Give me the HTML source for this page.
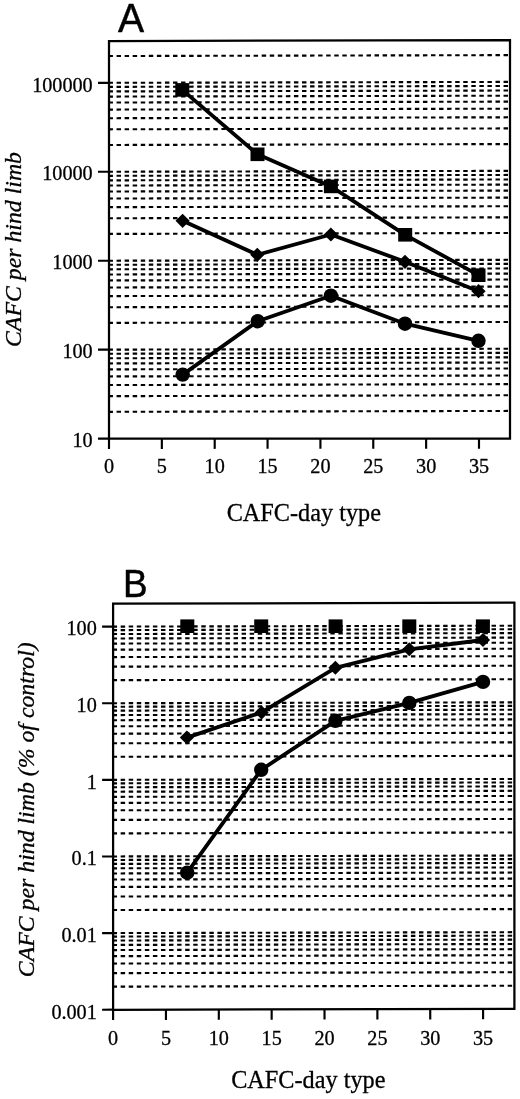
<!DOCTYPE html>
<html><head><meta charset="utf-8"><title>CAFC per hind limb</title>
<style>html,body{margin:0;padding:0;background:#fff}svg{display:block;will-change:transform;opacity:.999;filter:blur(.4px)}.s{font-family:"Liberation Serif",serif;fill:#000;stroke:#000;stroke-width:.3px}.i{font-family:"Liberation Serif",serif;font-style:italic;fill:#000;stroke:#000;stroke-width:.3px}.h{font-family:"Liberation Sans",sans-serif;fill:#000;stroke:#000;stroke-width:.5px}</style></head><body>
<svg width="520" height="1099" viewBox="0 0 520 1099">
<rect x="0" y="0" width="520" height="1099" fill="#fff"/>
<g transform="translate(0 0.25) skewY(-0.129)">
<g stroke="#000" stroke-width="2.12" stroke-dasharray="4.45 3.6125" fill="none">
<path d="M108.50 411.82H510.00"/>
<path d="M108.50 396.16H510.00"/>
<path d="M108.50 385.05H510.00"/>
<path d="M108.50 376.43H510.00"/>
<path d="M108.50 369.38H510.00"/>
<path d="M108.50 363.43H510.00"/>
<path d="M108.50 358.27H510.00"/>
<path d="M108.50 353.72H510.00"/>
<path d="M108.50 349.65H510.00"/>
<path d="M108.50 322.87H510.00"/>
<path d="M108.50 307.21H510.00"/>
<path d="M108.50 296.10H510.00"/>
<path d="M108.50 287.48H510.00"/>
<path d="M108.50 280.43H510.00"/>
<path d="M108.50 274.48H510.00"/>
<path d="M108.50 269.32H510.00"/>
<path d="M108.50 264.77H510.00"/>
<path d="M108.50 260.70H510.00"/>
<path d="M108.50 233.92H510.00"/>
<path d="M108.50 218.26H510.00"/>
<path d="M108.50 207.15H510.00"/>
<path d="M108.50 198.53H510.00"/>
<path d="M108.50 191.48H510.00"/>
<path d="M108.50 185.53H510.00"/>
<path d="M108.50 180.37H510.00"/>
<path d="M108.50 175.82H510.00"/>
<path d="M108.50 171.75H510.00"/>
<path d="M108.50 144.97H510.00"/>
<path d="M108.50 129.31H510.00"/>
<path d="M108.50 118.20H510.00"/>
<path d="M108.50 109.58H510.00"/>
<path d="M108.50 102.53H510.00"/>
<path d="M108.50 96.58H510.00"/>
<path d="M108.50 91.42H510.00"/>
<path d="M108.50 86.87H510.00"/>
<path d="M108.50 82.80H510.00"/>
<path d="M108.50 56.02H510.00"/>
</g>
<path d="M109 41.0H510V439.40L109 438.6Z" fill="none" stroke="#000" stroke-width="2.25" stroke-linejoin="miter"/>
<g stroke="#000" stroke-width="2.15" fill="none">
<path d="M98.00 82.80H109.00"/>
<path d="M98.00 171.75H109.00"/>
<path d="M98.00 260.70H109.00"/>
<path d="M98.00 349.65H109.00"/>
<path d="M98.00 438.60H109.00"/>
<path d="M109.00 438.60V448.90"/>
<path d="M161.85 438.71V449.01"/>
<path d="M214.71 438.81V449.11"/>
<path d="M267.56 438.92V449.22"/>
<path d="M320.42 439.02V449.32"/>
<path d="M373.27 439.13V449.43"/>
<path d="M426.13 439.23V449.53"/>
<path d="M478.99 439.34V449.64"/>
</g>
</g>
<text class="s" font-size="20.2" text-anchor="end" x="92.70" y="91.50">100000</text>
<text class="s" font-size="20.2" text-anchor="end" x="92.70" y="180.45">10000</text>
<text class="s" font-size="20.2" text-anchor="end" x="92.70" y="269.40">1000</text>
<text class="s" font-size="20.2" text-anchor="end" x="92.70" y="358.35">100</text>
<text class="s" font-size="20.2" text-anchor="end" x="92.70" y="447.30">10</text>
<text class="s" font-size="20.2" text-anchor="middle" x="109.00" y="472.60">0</text>
<text class="s" font-size="20.2" text-anchor="middle" x="161.85" y="472.60">5</text>
<text class="s" font-size="20.2" text-anchor="middle" x="214.71" y="472.60">10</text>
<text class="s" font-size="20.2" text-anchor="middle" x="267.56" y="472.60">15</text>
<text class="s" font-size="20.2" text-anchor="middle" x="320.42" y="472.60">20</text>
<text class="s" font-size="20.2" text-anchor="middle" x="373.27" y="472.60">25</text>
<text class="s" font-size="20.2" text-anchor="middle" x="426.13" y="472.60">30</text>
<text class="s" font-size="20.2" text-anchor="middle" x="478.99" y="472.60">35</text>
<polyline fill="none" stroke="#000" stroke-width="3.8" stroke-linejoin="round" points="182.3,89.9 257.5,154.3 330.9,186.4 405.2,234.8 478.5,275.2"/>
<rect x="175.3" y="83.1" width="14" height="13.6" fill="#000"/>
<rect x="250.5" y="147.5" width="14" height="13.6" fill="#000"/>
<rect x="323.9" y="179.6" width="14" height="13.6" fill="#000"/>
<rect x="398.2" y="228.0" width="14" height="13.6" fill="#000"/>
<rect x="471.5" y="268.4" width="14" height="13.6" fill="#000"/>
<polyline fill="none" stroke="#000" stroke-width="3.8" stroke-linejoin="round" points="182.6,220.8 257.3,254.8 330.9,234.5 405.0,261.8 478.5,291.2"/>
<path d="M175.5 220.8L182.6 213.8L189.7 220.8L182.6 227.9Z" fill="#000"/>
<path d="M250.2 254.8L257.3 247.8L264.4 254.8L257.3 261.9Z" fill="#000"/>
<path d="M323.8 234.5L330.9 227.4L337.9 234.5L330.9 241.6Z" fill="#000"/>
<path d="M397.9 261.8L405.0 254.8L412.1 261.8L405.0 268.9Z" fill="#000"/>
<path d="M471.4 291.2L478.5 284.1L485.6 291.2L478.5 298.2Z" fill="#000"/>
<polyline fill="none" stroke="#000" stroke-width="3.8" stroke-linejoin="round" points="182.7,374.6 257.7,321.2 330.9,295.7 405.0,323.7 478.5,340.8"/>
<circle cx="182.7" cy="374.6" r="7.2" fill="#000"/>
<circle cx="257.7" cy="321.2" r="7.2" fill="#000"/>
<circle cx="330.9" cy="295.7" r="7.2" fill="#000"/>
<circle cx="405.0" cy="323.7" r="7.2" fill="#000"/>
<circle cx="478.5" cy="340.8" r="7.2" fill="#000"/>
<text class="h" font-size="41.2" transform="translate(118.1 32.2) scale(0.95 1)">A</text>
<text class="i" font-size="23.8" transform="translate(21.2 347) rotate(-90)">CAFC per hind limb</text>
<text class="s" font-size="24.25" text-anchor="middle" x="303.8" y="520.8">CAFC-day type</text>
<g transform="translate(0 0.25) skewY(-0.129)">
<g stroke="#000" stroke-width="2.12" stroke-dasharray="4.45 3.6125" fill="none">
<path d="M112.60 986.64H514.40"/>
<path d="M112.60 973.14H514.40"/>
<path d="M112.60 963.57H514.40"/>
<path d="M112.60 956.14H514.40"/>
<path d="M112.60 950.08H514.40"/>
<path d="M112.60 944.95H514.40"/>
<path d="M112.60 940.51H514.40"/>
<path d="M112.60 936.59H514.40"/>
<path d="M112.60 933.08H514.40"/>
<path d="M112.60 910.02H514.40"/>
<path d="M112.60 896.52H514.40"/>
<path d="M112.60 886.95H514.40"/>
<path d="M112.60 879.52H514.40"/>
<path d="M112.60 873.46H514.40"/>
<path d="M112.60 868.33H514.40"/>
<path d="M112.60 863.89H514.40"/>
<path d="M112.60 859.97H514.40"/>
<path d="M112.60 856.46H514.40"/>
<path d="M112.60 833.40H514.40"/>
<path d="M112.60 819.90H514.40"/>
<path d="M112.60 810.33H514.40"/>
<path d="M112.60 802.90H514.40"/>
<path d="M112.60 796.84H514.40"/>
<path d="M112.60 791.71H514.40"/>
<path d="M112.60 787.27H514.40"/>
<path d="M112.60 783.35H514.40"/>
<path d="M112.60 779.84H514.40"/>
<path d="M112.60 756.78H514.40"/>
<path d="M112.60 743.28H514.40"/>
<path d="M112.60 733.71H514.40"/>
<path d="M112.60 726.28H514.40"/>
<path d="M112.60 720.22H514.40"/>
<path d="M112.60 715.09H514.40"/>
<path d="M112.60 710.65H514.40"/>
<path d="M112.60 706.73H514.40"/>
<path d="M112.60 703.22H514.40"/>
<path d="M112.60 680.16H514.40"/>
<path d="M112.60 666.66H514.40"/>
<path d="M112.60 657.09H514.40"/>
<path d="M112.60 649.66H514.40"/>
<path d="M112.60 643.60H514.40"/>
<path d="M112.60 638.47H514.40"/>
<path d="M112.60 634.03H514.40"/>
<path d="M112.60 630.11H514.40"/>
<path d="M112.60 626.60H514.40"/>
</g>
<path d="M113.1 603.6H514.4V1009.80L113.1 1009.8Z" fill="none" stroke="#000" stroke-width="2.25" stroke-linejoin="miter"/>
<g stroke="#000" stroke-width="2.15" fill="none">
<path d="M102.10 626.60H113.10"/>
<path d="M102.10 703.22H113.10"/>
<path d="M102.10 779.84H113.10"/>
<path d="M102.10 856.46H113.10"/>
<path d="M102.10 933.08H113.10"/>
<path d="M102.10 1009.70H113.10"/>
<path d="M113.10 1009.80V1020.10"/>
<path d="M165.95 1009.80V1020.10"/>
<path d="M218.81 1009.80V1020.10"/>
<path d="M271.66 1009.80V1020.10"/>
<path d="M324.52 1009.80V1020.10"/>
<path d="M377.38 1009.80V1020.10"/>
<path d="M430.23 1009.80V1020.10"/>
<path d="M483.09 1009.80V1020.10"/>
</g>
</g>
<text class="s" font-size="20.2" text-anchor="end" x="96.80" y="635.40">100</text>
<text class="s" font-size="20.2" text-anchor="end" x="96.80" y="712.02">10</text>
<text class="s" font-size="20.2" text-anchor="end" x="96.80" y="788.64">1</text>
<text class="s" font-size="20.2" text-anchor="end" x="96.80" y="865.26">0.1</text>
<text class="s" font-size="20.2" text-anchor="end" x="96.80" y="941.88">0.01</text>
<text class="s" font-size="20.2" text-anchor="end" x="96.80" y="1018.50">0.001</text>
<text class="s" font-size="20.2" text-anchor="middle" x="113.10" y="1045.00">0</text>
<text class="s" font-size="20.2" text-anchor="middle" x="165.95" y="1045.00">5</text>
<text class="s" font-size="20.2" text-anchor="middle" x="218.81" y="1045.00">10</text>
<text class="s" font-size="20.2" text-anchor="middle" x="271.66" y="1045.00">15</text>
<text class="s" font-size="20.2" text-anchor="middle" x="324.52" y="1045.00">20</text>
<text class="s" font-size="20.2" text-anchor="middle" x="377.38" y="1045.00">25</text>
<text class="s" font-size="20.2" text-anchor="middle" x="430.23" y="1045.00">30</text>
<text class="s" font-size="20.2" text-anchor="middle" x="483.09" y="1045.00">35</text>
<rect x="180.3" y="619.4" width="14" height="13.6" fill="#000"/>
<rect x="254.2" y="619.4" width="14" height="13.6" fill="#000"/>
<rect x="328.6" y="619.4" width="14" height="13.6" fill="#000"/>
<rect x="402.3" y="619.4" width="14" height="13.6" fill="#000"/>
<rect x="475.9" y="619.4" width="14" height="13.6" fill="#000"/>
<polyline fill="none" stroke="#000" stroke-width="3.8" stroke-linejoin="round" points="186.9,737.6 261.6,712.4 335.4,667.8 409.3,649.3 483.0,640.0"/>
<path d="M179.8 737.6L186.9 730.6L194.0 737.6L186.9 744.6Z" fill="#000"/>
<path d="M254.6 712.4L261.6 705.4L268.7 712.4L261.6 719.4Z" fill="#000"/>
<path d="M328.3 667.8L335.4 660.8L342.4 667.8L335.4 674.8Z" fill="#000"/>
<path d="M402.2 649.3L409.3 642.2L416.4 649.3L409.3 656.3Z" fill="#000"/>
<path d="M475.9 640.0L483.0 633.0L490.1 640.0L483.0 647.0Z" fill="#000"/>
<polyline fill="none" stroke="#000" stroke-width="3.8" stroke-linejoin="round" points="187.2,872.7 261.2,769.8 335.4,720.8 409.3,702.9 483.0,681.9"/>
<circle cx="187.2" cy="872.7" r="7.2" fill="#000"/>
<circle cx="261.2" cy="769.8" r="7.2" fill="#000"/>
<circle cx="335.4" cy="720.8" r="7.2" fill="#000"/>
<circle cx="409.3" cy="702.9" r="7.2" fill="#000"/>
<circle cx="483.0" cy="681.9" r="7.2" fill="#000"/>
<text class="h" font-size="39.6" transform="translate(123 596.5) scale(0.93 1)">B</text>
<text class="i" font-size="23.8" transform="translate(34.4 977.2) rotate(-90)">CAFC per hind limb (% of control)</text>
<text class="s" font-size="24.25" text-anchor="middle" x="308.3" y="1087.7">CAFC-day type</text>
</svg></body></html>
